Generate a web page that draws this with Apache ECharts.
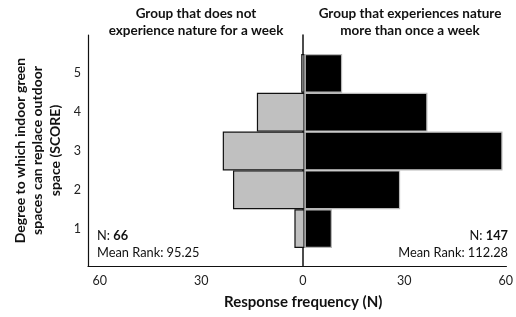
<!DOCTYPE html>
<html>
<head>
<meta charset="utf-8">
<script src="https://cdn.jsdelivr.net/npm/echarts@6/dist/echarts.min.js"></script>
<style>
  html, body { margin: 0; padding: 0; background: #fff; }
  #main { width: 516px; height: 317px; }
</style>
</head>
<body>
<div id="main"></div>
<script>
// scores 1..5 (bottom to top)
var scores = ['1', '2', '3', '4', '5'];
// group that does not experience nature for a week (drawn to the left)
var noNature = [3, 21, 24, 14, 1];
// group that experiences nature more than once a week (drawn to the right)
var withNature = [8, 28, 58, 36, 11];
var xTicks = [-60, -30, 0, 30, 60];

var font = 'Lato';

var myChart = echarts.init(document.getElementById('main'));

// header text above each half
function header(txt, x) {
    return {
        type: 'text', x: x, y: 5,
        style: {
            text: txt, align: 'center', verticalAlign: 'top',
            fontSize: 13.5, fontWeight: 'bold', fontFamily: font,
            fill: '#111', lineHeight: 17
        }
    };
}

var option = {
    animation: false,
    textStyle: { fontFamily: font },
    graphic: [
        header('Group that does not\nexperience nature for a week', 196),
        header('Group that experiences nature\nmore than once a week', 410),
        {
            type: 'text', left: 97, top: 229,
            style: {
                text: '{a|N: }{b|66}\n{a|Mean Rank: 95.25}',
                rich: {
                    a: { fontSize: 12.8, fontFamily: font, fill: '#111', lineHeight: 17 },
                    b: { fontSize: 12.8, fontFamily: font, fontWeight: 'bold', fill: '#111', lineHeight: 17 }
                }
            }
        }, {
            type: 'text', right: 8, top: 229,
            style: {
                text: '{a|N: }{b|147}\n{a|Mean Rank: 112.28}',
                align: 'right',
                rich: {
                    a: { fontSize: 12.8, fontFamily: font, fill: '#111', lineHeight: 17, align: 'right' },
                    b: { fontSize: 12.8, fontFamily: font, fontWeight: 'bold', fill: '#111', lineHeight: 17, align: 'right' }
                }
            }
        }
    ],
    grid: [
        // frame with axis lines
        { left: 88, right: 6, top: 35, bottom: 51 },
        // bars
        { left: 88, right: 6, top: 54, bottom: 69 }
    ],
    xAxis: [{
        gridIndex: 0,
        type: 'value',
        min: -63.5, max: 60.2,
        axisLine: { show: true, onZero: false, lineStyle: { color: '#111', width: 1.2 } },
        axisTick: { show: false },
        splitLine: { show: false },
        axisLabel: {
            customValues: xTicks,
            formatter: function (v) { return Math.abs(v); },
            fontSize: 12.5, color: '#222', margin: 8, fontFamily: font
        },
        name: 'Response frequency (N)',
        nameLocation: 'middle',
        nameGap: 29,
        nameTextStyle: { fontSize: 15, fontWeight: 'bold', color: '#111', padding: [0, 0, 0, 12], fontFamily: font }
    }, {
        gridIndex: 1,
        type: 'value',
        min: -63.5, max: 60.2,
        show: false
    }],
    yAxis: [{
        gridIndex: 0,
        type: 'value',
        position: 'left',
        axisLine: { show: true, onZero: false, lineStyle: { color: '#111', width: 1.2 } },
        axisTick: { show: false },
        axisLabel: { show: false },
        splitLine: { show: false },
        name: 'Degree to which indoor green\nspaces can replace outdoor\nspace (SCORE)',
        nameLocation: 'middle',
        nameGap: 24,
        nameTextStyle: { fontSize: 14, fontWeight: 'bold', color: '#111', lineHeight: 17.5, fontFamily: font }
    }, {
        gridIndex: 0,
        type: 'value',
        position: 'right',
        axisLine: { show: true, onZero: true, lineStyle: { color: '#111', width: 1.5 } },
        axisTick: { show: false },
        axisLabel: { show: false },
        splitLine: { show: false }
    }, {
        gridIndex: 1,
        type: 'category',
        data: scores,
        axisLine: { show: false },
        axisTick: { show: false },
        axisLabel: { fontSize: 12.5, color: '#222', margin: 7, fontFamily: font }
    }],
    series: [{
        name: 'No nature',
        type: 'bar',
        xAxisIndex: 1,
        yAxisIndex: 2,
        stack: 'all',
        barWidth: '100%',
        data: noNature.map(function (v) { return -v; }),
        itemStyle: { color: '#c0c0c0', borderColor: '#111', borderWidth: 1.2 },
        z: 2
    }, {
        name: 'Nature',
        type: 'bar',
        xAxisIndex: 1,
        yAxisIndex: 2,
        stack: 'all',
        barWidth: '100%',
        data: withNature,
        itemStyle: { color: '#000', borderColor: '#b8b8b8', borderWidth: 1.2 },
        z: 2
    }]
};

myChart.setOption(option);
</script>
</body>
</html>
